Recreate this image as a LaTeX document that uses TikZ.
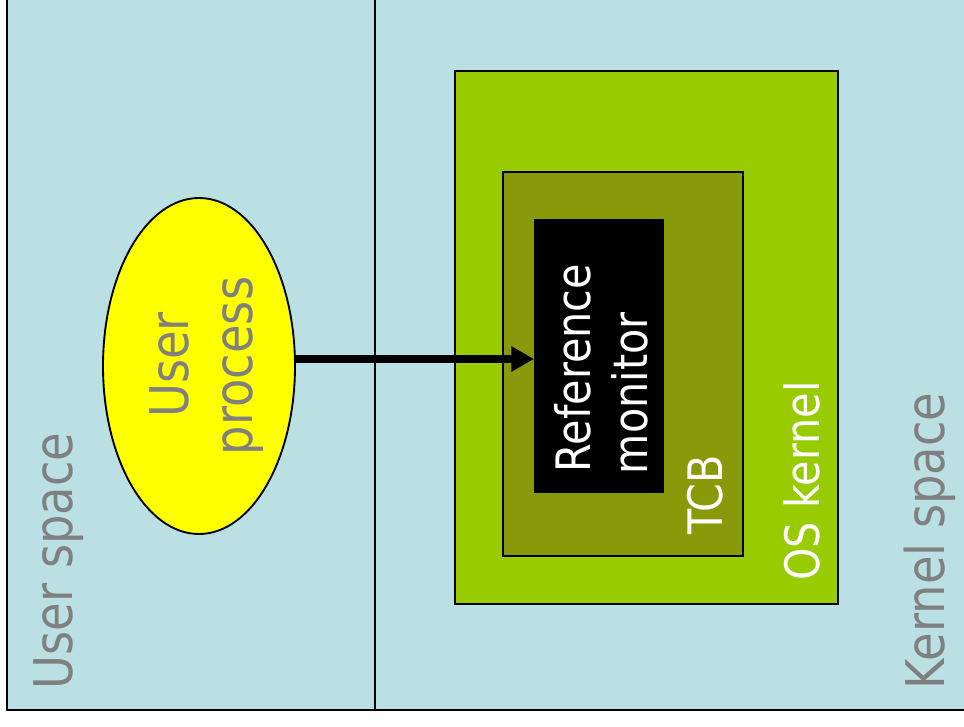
\documentclass[tikz,border=0pt]{standalone}
\usepackage{fontspec}
\usetikzlibrary{shapes.geometric,arrows.meta}
\newfontfamily\lblfont[FakeStretch=0.87]{DejaVu Sans}
\definecolor{bgblue}{HTML}{BBE0E3}
\definecolor{kgreen}{HTML}{99CC00}
\definecolor{tcbolive}{HTML}{889A0A}
\definecolor{lblgray}{HTML}{808080}
\definecolor{procyellow}{HTML}{FFFF00}
\begin{document}
\begin{tikzpicture}[x=0.75pt,y=0.75pt,
  box/.style={draw=black,line width=1.5pt,inner sep=0pt,outer sep=0pt,anchor=north west},
  biglbl/.style={rotate=90,inner sep=0pt,outer sep=0pt,text=lblgray,font=\lblfont\fontsize{40}{48}\selectfont},
  smalllbl/.style={rotate=90,inner sep=0pt,outer sep=0pt,text=white,font=\lblfont\fontsize{35.6}{43}\selectfont},
  arr/.style={line width=6pt,-{Triangle[length=17pt,width=18pt]}}]
\clip (0,0) rectangle (964,-726);
\fill[white] (0,0) rectangle (964,-726);
% background and frame
\fill[bgblue] (7,0) rectangle (964,-710);
\draw[line width=1.6pt] (7,10) -- (7,-710) -- (980,-710);
\draw[line width=1.6pt] (375,10) -- (375,-710);
% OS kernel
\node[box,fill=kgreen,minimum width=383*0.75pt,minimum height=533*0.75pt] (kern) at (455,-71) {};
% TCB
\node[box,fill=tcbolive,line width=1.2pt,minimum width=240*0.75pt,minimum height=384*0.75pt] (tcb) at (503,-172) {};
% Reference monitor
\node[fill=black,inner sep=0pt,outer sep=0pt,anchor=north west,minimum width=130*0.75pt,minimum height=274*0.75pt] (rm) at (534,-219) {};
% User process ellipse
\node[ellipse,draw=black,line width=1.4pt,fill=procyellow,inner sep=0pt,outer sep=0pt,minimum width=192*0.75pt,minimum height=336*0.75pt] (ue) at (199,-366) {};
% labels
\node[biglbl,anchor=base] (usl) at (72,-561) {User space};
\node[biglbl,anchor=base] (ksl) at (944,-541) {Kernel space};
\node[biglbl,anchor=base] (up1) at (188,-365) {User};
\node[biglbl,anchor=base] (up2) at (252,-366) {process};
\node[smalllbl,anchor=base] (okl) at (819,-481) {OS kernel};
\node[smalllbl,anchor=base] (tcbl) at (722,-495) {TCB};
\node[smalllbl,anchor=base west] (rm1) at (590,-472) {Reference};
\node[smalllbl,anchor=base west] (rm2) at (647,-474) {monitor};
% arrow
\coordinate (a0) at ([yshift=5.25pt]ue.east);
\draw[arr] (a0) -- (a0 -| rm.west);
\end{tikzpicture}
\end{document}
